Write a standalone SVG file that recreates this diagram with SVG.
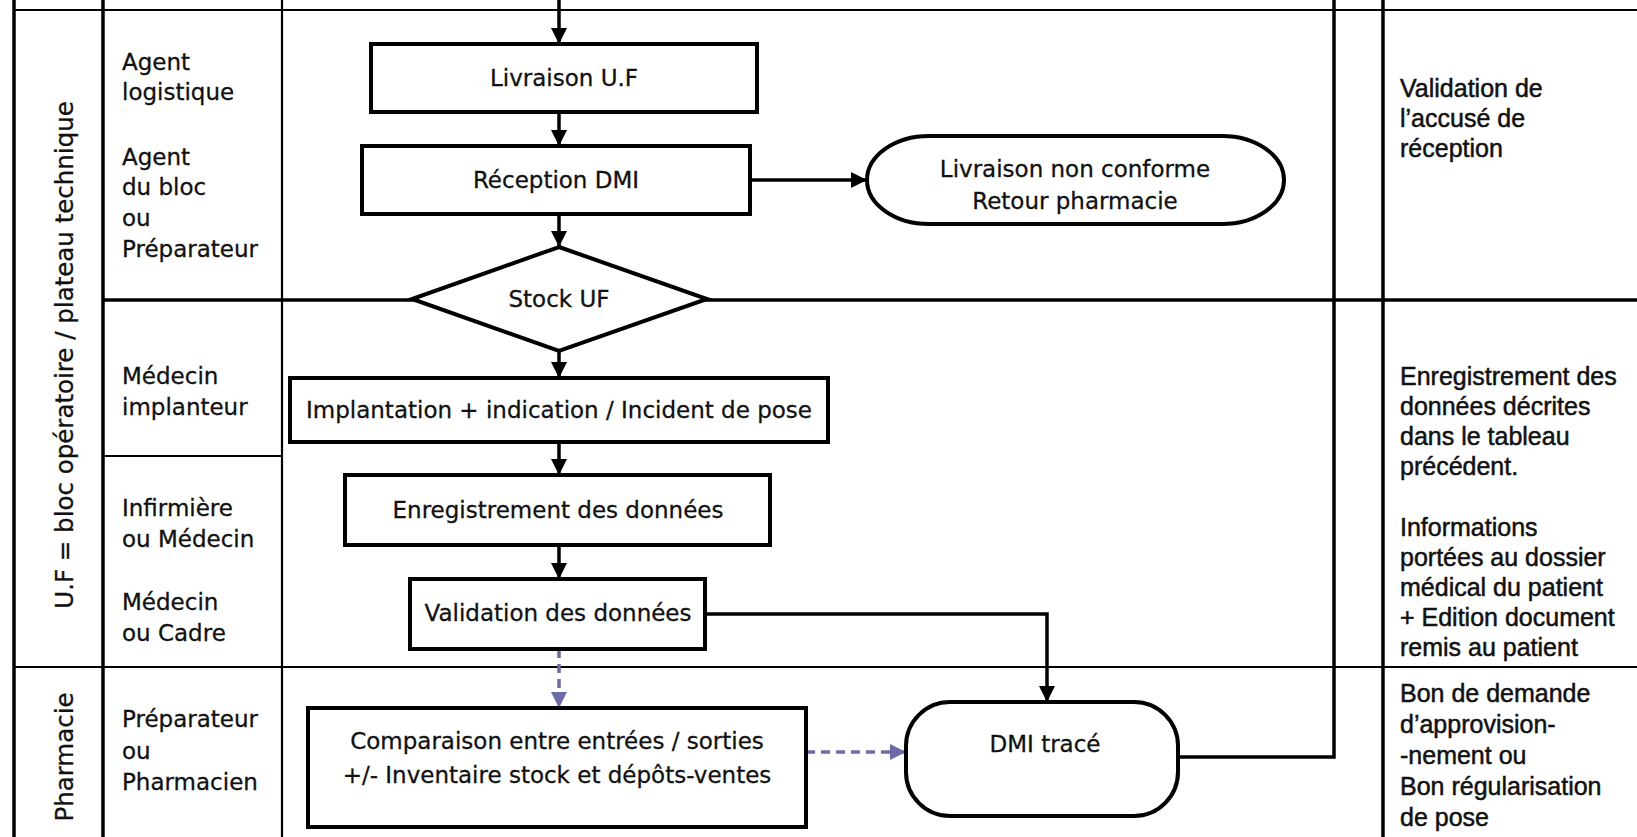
<svg xmlns="http://www.w3.org/2000/svg" width="1637" height="837" viewBox="0 0 1637 837">
<style>
.tl{stroke:#000;fill:none}
.k{stroke-width:3.5}
.n{stroke-width:2.2}
.box{fill:#fff;stroke:#000;stroke-width:4}
.t{font-family:"DejaVu Sans",Verdana,sans-serif;font-size:23px;fill:#111;stroke:#111;stroke-width:0.3}
.c{text-anchor:middle}
.r{font-family:"Liberation Sans",Arial,sans-serif;font-size:25px;fill:#111;stroke:#111;stroke-width:0.5}
.lane{font-family:"DejaVu Sans",Verdana,sans-serif;font-size:24.5px;text-anchor:middle;fill:#111;stroke:#111;stroke-width:0.3}
.conn{fill:none;stroke:#000;stroke-width:3.5}
.dash{fill:none;stroke:#6b6ba8;stroke-width:3.5;stroke-dasharray:9 6}
</style>
<defs>
<marker id="ah" viewBox="0 0 10 10" refX="10" refY="5" markerWidth="16" markerHeight="16" markerUnits="userSpaceOnUse" orient="auto"><path d="M0,0 L10,5 L0,10 z" fill="#000"/></marker>
<marker id="ahb" viewBox="0 0 10 10" refX="10" refY="5" markerWidth="16" markerHeight="16" markerUnits="userSpaceOnUse" orient="auto"><path d="M0,0 L10,5 L0,10 z" fill="#6b6ba8"/></marker>
</defs>
<rect width="1637" height="837" fill="#fff"/>
<g id="table">
<line class="tl n" x1="14" y1="10" x2="1637" y2="10"/>
<line class="tl k" x1="103" y1="300" x2="1637" y2="300"/>
<line class="tl n" x1="103" y1="456" x2="282" y2="456"/>
<line class="tl n" x1="14" y1="667" x2="1637" y2="667"/>
<line class="tl k" x1="14" y1="0" x2="14" y2="837"/>
<line class="tl k" x1="103" y1="0" x2="103" y2="837"/>
<line class="tl n" x1="282" y1="0" x2="282" y2="837"/>
<line class="tl k" x1="1383" y1="0" x2="1383" y2="837"/>
</g>
<g id="lanes">
<text class="lane" transform="translate(73,355) rotate(-90)">U.F = bloc opératoire / plateau technique</text>
<text class="lane" transform="translate(73,757) rotate(-90)">Pharmacie</text>
</g>
<g id="roles" class="t">
<text x="122" y="70">Agent</text>
<text x="122" y="100">logistique</text>
<text x="122" y="165">Agent</text>
<text x="122" y="195">du bloc</text>
<text x="122" y="226">ou</text>
<text x="122" y="257">Préparateur</text>
<text x="122" y="384">Médecin</text>
<text x="122" y="415">implanteur</text>
<text x="122" y="516">Infirmière</text>
<text x="122" y="547">ou Médecin</text>
<text x="122" y="610">Médecin</text>
<text x="122" y="641">ou Cadre</text>
<text x="122" y="727">Préparateur</text>
<text x="122" y="759">ou</text>
<text x="122" y="790">Pharmacien</text>
</g>
<g id="notes" class="r">
<text x="1400" y="97">Validation de</text>
<text x="1400" y="127">l’accusé de</text>
<text x="1400" y="157">réception</text>
<text x="1400" y="385">Enregistrement des</text>
<text x="1400" y="415">données décrites</text>
<text x="1400" y="445">dans le tableau</text>
<text x="1400" y="475">précédent.</text>
<text x="1400" y="536">Informations</text>
<text x="1400" y="566">portées au dossier</text>
<text x="1400" y="596">médical du patient</text>
<text x="1400" y="626">+ Edition document</text>
<text x="1400" y="656">remis au patient</text>
<text x="1400" y="702">Bon de demande</text>
<text x="1400" y="733">d’approvision-</text>
<text x="1400" y="764">-nement ou</text>
<text x="1400" y="795">Bon régularisation</text>
<text x="1400" y="826">de pose</text>
</g>
<g id="connectors">
<path class="conn" d="M1178,757 H1334 V-20 H559 V44" marker-end="url(#ah)"/>
<path class="conn" d="M559,112 V146" marker-end="url(#ah)"/>
<path class="conn" d="M559,214 V247" marker-end="url(#ah)"/>
<path class="conn" d="M750,180 H867" marker-end="url(#ah)"/>
<path class="conn" d="M559,351 V378" marker-end="url(#ah)"/>
<path class="conn" d="M559,442 V475" marker-end="url(#ah)"/>
<path class="conn" d="M559,545 V579" marker-end="url(#ah)"/>
<path class="conn" d="M705,614 H1047 V702" marker-end="url(#ah)"/>
<path class="dash" d="M559,649 V708" marker-end="url(#ahb)"/>
<path class="dash" d="M806,752 H906" marker-end="url(#ahb)"/>
</g>
<g id="livraison-uf">
<rect class="box" x="371" y="44" width="386" height="68"/>
<text class="t c" x="564" y="86">Livraison U.F</text>
</g>
<g id="reception-dmi">
<rect class="box" x="362" y="146" width="388" height="68"/>
<text class="t c" x="556" y="188">Réception DMI</text>
</g>
<g id="non-conforme">
<rect class="box" x="867" y="136" width="417" height="88" rx="62" ry="44" stroke-width="3.5"/>
<text class="t c" x="1075" y="177">Livraison non conforme</text>
<text class="t c" x="1075" y="209">Retour pharmacie</text>
</g>
<g id="stock-uf">
<polygon class="box" points="559,247 707,299 559,351 412,299"/>
<text class="t c" x="559" y="307">Stock UF</text>
</g>
<g id="implantation">
<rect class="box" x="290" y="378" width="538" height="64"/>
<text class="t c" x="559" y="418">Implantation + indication / Incident de pose</text>
</g>
<g id="enregistrement">
<rect class="box" x="345" y="475" width="425" height="70"/>
<text class="t c" x="558" y="518">Enregistrement des données</text>
</g>
<g id="validation">
<rect class="box" x="410" y="579" width="295" height="70"/>
<text class="t c" x="558" y="621">Validation des données</text>
</g>
<g id="comparaison">
<rect class="box" x="308" y="708" width="498" height="119"/>
<text class="t c" x="557" y="749">Comparaison entre entrées / sorties</text>
<text class="t c" x="557" y="783">+/- Inventaire stock et dépôts-ventes</text>
</g>
<g id="dmi-trace">
<rect class="box" x="906" y="702" width="272" height="114" rx="44" ry="44"/>
<text class="t c" x="1045" y="752">DMI tracé</text>
</g>
</svg>
